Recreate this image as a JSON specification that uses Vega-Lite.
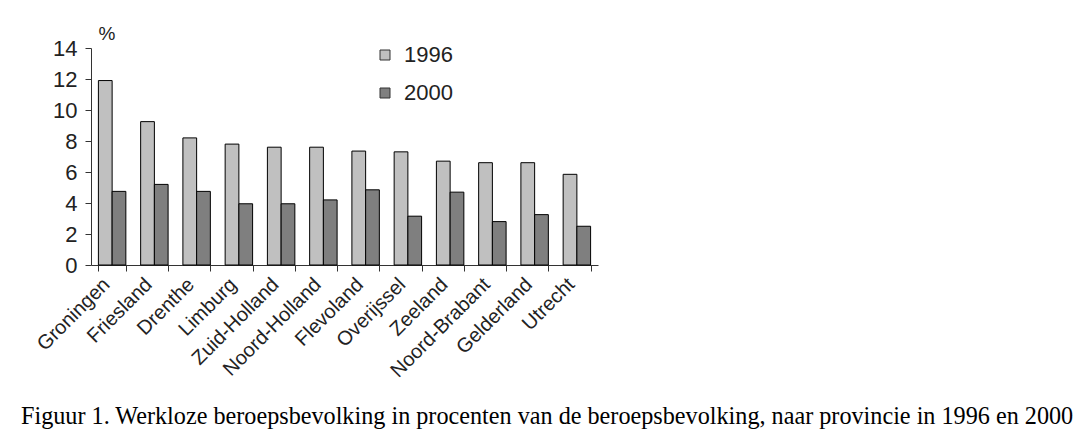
{
  "$schema": "https://vega.github.io/schema/vega-lite/v6.json",
  "width": 507,
  "height": 217,
  "autosize": {"type": "none"},
  "padding": {"left": 91, "top": 48, "right": 480, "bottom": 171},
  "background": "white",
  "data": {"values": [
    {"provincie": "Groningen", "jaar": "1996", "pct": 11.9},
    {"provincie": "Groningen", "jaar": "2000", "pct": 4.75},
    {"provincie": "Friesland", "jaar": "1996", "pct": 9.25},
    {"provincie": "Friesland", "jaar": "2000", "pct": 5.2},
    {"provincie": "Drenthe", "jaar": "1996", "pct": 8.2},
    {"provincie": "Drenthe", "jaar": "2000", "pct": 4.75},
    {"provincie": "Limburg", "jaar": "1996", "pct": 7.8},
    {"provincie": "Limburg", "jaar": "2000", "pct": 3.95},
    {"provincie": "Zuid-Holland", "jaar": "1996", "pct": 7.6},
    {"provincie": "Zuid-Holland", "jaar": "2000", "pct": 3.95},
    {"provincie": "Noord-Holland", "jaar": "1996", "pct": 7.6},
    {"provincie": "Noord-Holland", "jaar": "2000", "pct": 4.2},
    {"provincie": "Flevoland", "jaar": "1996", "pct": 7.35},
    {"provincie": "Flevoland", "jaar": "2000", "pct": 4.85},
    {"provincie": "Overijssel", "jaar": "1996", "pct": 7.3},
    {"provincie": "Overijssel", "jaar": "2000", "pct": 3.15},
    {"provincie": "Zeeland", "jaar": "1996", "pct": 6.7},
    {"provincie": "Zeeland", "jaar": "2000", "pct": 4.7},
    {"provincie": "Noord-Brabant", "jaar": "1996", "pct": 6.6},
    {"provincie": "Noord-Brabant", "jaar": "2000", "pct": 2.8},
    {"provincie": "Gelderland", "jaar": "1996", "pct": 6.6},
    {"provincie": "Gelderland", "jaar": "2000", "pct": 3.25},
    {"provincie": "Utrecht", "jaar": "1996", "pct": 5.85},
    {"provincie": "Utrecht", "jaar": "2000", "pct": 2.5}
  ]},
  "mark": {"type": "bar", "stroke": "black", "strokeWidth": 1},
  "encoding": {
    "x": {
      "field": "provincie", "type": "nominal", "sort": null,
      "scale": {"paddingInner": 0.35, "paddingOuter": 0.175},
      "axis": {
        "title": null, "labelAngle": -45, "labelFont": "Liberation Sans", "labelFontSize": 20,
        "labelColor": "#222", "tickBand": "extent", "tickSize": 6, "tickColor": "#333",
        "domainColor": "#333", "labelPadding": 3, "labelOffset": -13
      }
    },
    "xOffset": {"field": "jaar", "type": "nominal", "scale": {"paddingInner": 0, "paddingOuter": 0}},
    "y": {
      "field": "pct", "type": "quantitative",
      "scale": {"domain": [0, 14]},
      "axis": {
        "values": [0, 2, 4, 6, 8, 10, 12, 14], "grid": false,
        "labelFont": "Liberation Sans", "labelFontSize": 22, "labelColor": "#222", "labelPadding": 8,
        "tickSize": 6, "tickColor": "#333", "domainColor": "#333",
        "title": "%", "titleAngle": 0, "titleX": 7, "titleY": -9, "titleAlign": "left",
        "titleBaseline": "alphabetic", "titleFont": "Liberation Sans", "titleFontSize": 19,
        "titleFontWeight": "normal", "titleColor": "#222"
      }
    },
    "color": {
      "field": "jaar", "type": "nominal",
      "scale": {"domain": ["1996", "2000"], "range": ["#c0c0c0", "#7f7f7f"]},
      "legend": {
        "orient": "none", "legendX": 283, "legendY": -4, "title": null,
        "symbolType": "square", "symbolSize": 100, "symbolStrokeColor": "#333", "symbolStrokeWidth": 1,
        "labelFont": "Liberation Sans", "labelFontSize": 22, "labelColor": "#222",
        "rowPadding": 16, "labelOffset": 8
      }
    }
  },
  "title": {
    "text": "Figuur 1. Werkloze beroepsbevolking in procenten van de beroepsbevolking, naar provincie in 1996 en 2000",
    "orient": "bottom", "anchor": "start", "frame": "group", "dx": -70, "offset": 24,
    "font": "Liberation Serif", "fontSize": 24.2, "fontWeight": "normal", "color": "black"
  },
  "config": {"view": {"stroke": null}}
}
